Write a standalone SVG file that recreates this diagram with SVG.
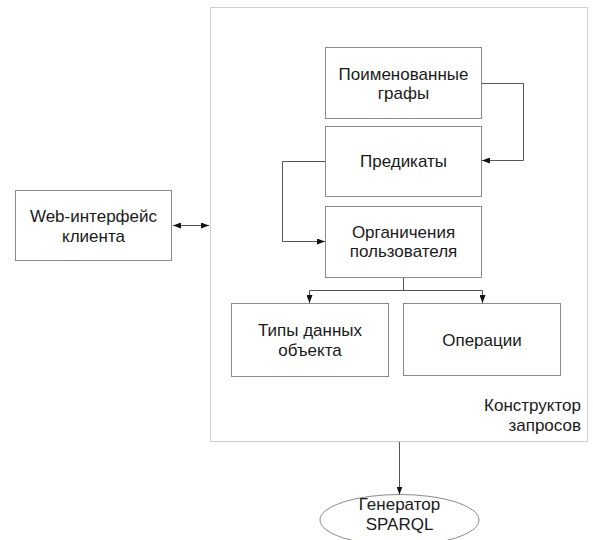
<svg xmlns="http://www.w3.org/2000/svg" width="593" height="540" viewBox="0 0 593 540">
<defs>
<marker id="ah" viewBox="0 0 8 6" refX="8" refY="3" markerWidth="8" markerHeight="6" markerUnits="userSpaceOnUse" orient="auto-start-reverse">
<path d="M0,0 L8,3 L0,6 Z" fill="#111"/>
</marker>
<style>
.box{fill:#fff;stroke:#8a8a8a;stroke-width:1}
.outer{fill:none;stroke:#a0a0a0;stroke-width:1;stroke-dasharray:1 1}
.c{fill:none;stroke:#555;stroke-width:1}
text{font-family:"Liberation Sans",Arial,sans-serif;font-size:17px;fill:#1a1a1a;text-anchor:middle}
.r{text-anchor:end}
</style>
</defs>
<rect width="593" height="540" fill="#fff"/>
<g id="konstruktor">
<rect class="outer" x="210.5" y="7.5" width="377" height="434"/>
<text class="r" x="581" y="411">Конструктор</text>
<text class="r" x="581" y="430.5">запросов</text>
</g>
<g id="web">
<rect class="box" x="15.5" y="190.5" width="156" height="70"/>
<text x="93.5" y="222">Web-интерфейс</text>
<text x="93.5" y="241.5">клиента</text>
</g>
<g id="named-graphs">
<rect class="box" x="325.5" y="47.5" width="156" height="71"/>
<text x="403.5" y="79.5">Поименованные</text>
<text x="403.5" y="99">графы</text>
</g>
<g id="predicates">
<rect class="box" x="325.5" y="126.5" width="156" height="70"/>
<text x="403.5" y="167">Предикаты</text>
</g>
<g id="restrictions">
<rect class="box" x="325.5" y="206.5" width="156" height="71"/>
<text x="403.5" y="237.5">Органичения</text>
<text x="403.5" y="257">пользователя</text>
</g>
<g id="datatypes">
<rect class="box" x="231.5" y="303.5" width="157" height="73"/>
<text x="310" y="336">Типы данных</text>
<text x="310" y="355.5">объекта</text>
</g>
<g id="operations">
<rect class="box" x="403.5" y="303.5" width="157" height="72"/>
<text x="482" y="345.5">Операции</text>
</g>
<g id="generator">
<ellipse cx="399.5" cy="520" rx="79.5" ry="25.5" fill="#fff" stroke="#8a8a8a" stroke-width="1"/>
<text x="399.5" y="509.5">Генератор</text>
<text x="399.5" y="529.5">SPARQL</text>
</g>
<g id="connectors">
<path class="c" d="M173,225.5 L209,225.5" marker-start="url(#ah)" marker-end="url(#ah)"/>
<path class="c" d="M482,83.5 L523.5,83.5 L523.5,160.5 L482,160.5" marker-end="url(#ah)"/>
<path class="c" d="M325,161.5 L282.5,161.5 L282.5,241.5 L325,241.5" marker-end="url(#ah)"/>
<path class="c" d="M403.5,278 L403.5,290.5"/>
<path class="c" d="M309.5,303 L309.5,290.5 L482.5,290.5 L482.5,303" marker-start="url(#ah)" marker-end="url(#ah)"/>
<path class="c" d="M399.5,442 L399.5,494.5" marker-end="url(#ah)"/>
</g>
</svg>
